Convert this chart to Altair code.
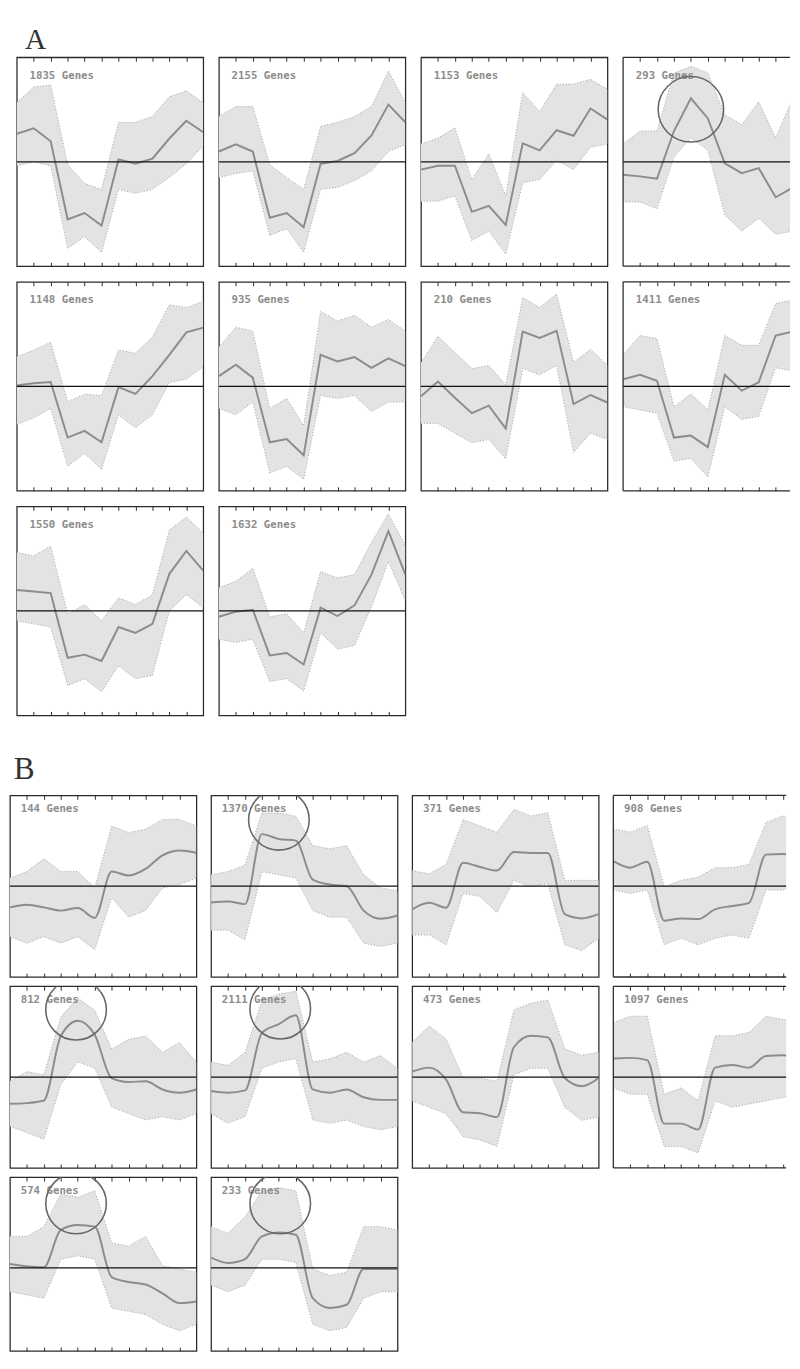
import altair as alt
import pandas as pd

# ---------------- data ----------------
TIME = list(range(12))                 # 12 time points, x domain 0..11
X_TICKS = list(range(1, 11))
Y_TICKS = [-2, -1, 0, 1, 2]

SECTION_LABELS = ["A", "B"]

A_LABELS = ["1835 Genes", "2155 Genes", "1153 Genes", "293 Genes",
            "1148 Genes", "935 Genes", "210 Genes", "1411 Genes",
            "1550 Genes", "1632 Genes"]

A_MEAN = [
    [0.71, 0.85, 0.52, -1.46, -1.30, -1.62, 0.06, -0.05, 0.08, 0.59, 1.04, 0.75],
    [0.26, 0.44, 0.26, -1.42, -1.30, -1.66, -0.05, 0.02, 0.22, 0.67, 1.45, 1.00],
    [-0.20, -0.10, -0.10, -1.27, -1.12, -1.60, 0.47, 0.29, 0.80, 0.66, 1.35, 1.07],
    [-0.33, -0.37, -0.43, 0.78, 1.61, 1.10, -0.04, -0.29, -0.16, -0.90, -0.66, -0.60],
    [0.02, 0.08, 0.11, -1.30, -1.13, -1.42, -0.02, -0.19, 0.26, 0.80, 1.37, 1.49],
    [0.26, 0.55, 0.22, -1.42, -1.34, -1.75, 0.80, 0.63, 0.74, 0.47, 0.71, 0.51],
    [-0.25, 0.12, -0.29, -0.68, -0.49, -1.07, 1.39, 1.23, 1.41, -0.45, -0.22, -0.41],
    [0.18, 0.29, 0.14, -1.30, -1.25, -1.54, 0.29, -0.11, 0.10, 1.29, 1.39, 0.80],
    [0.53, 0.49, 0.45, -1.19, -1.11, -1.27, -0.41, -0.56, -0.33, 0.94, 1.52, 1.02],
    [-0.15, -0.02, 0.03, -1.13, -1.07, -1.36, 0.08, -0.13, 0.14, 0.92, 2.02, 0.92],
]
A_UPPER = [
    [1.50, 1.90, 1.95, -0.07, -0.55, -0.70, 1.00, 1.00, 1.15, 1.65, 1.80, 1.50],
    [1.15, 1.40, 1.40, -0.07, -0.40, -0.70, 0.90, 1.00, 1.15, 1.40, 2.30, 1.50],
    [0.45, 0.60, 0.86, -0.45, 0.20, -0.86, 1.76, 1.27, 1.97, 1.97, 2.09, 1.84],
    [0.45, 0.78, 0.78, 2.25, 2.42, 2.25, 1.19, 0.94, 1.52, 0.61, 1.60, 1.00],
    [0.75, 0.92, 1.12, -0.39, -0.20, -0.23, 0.92, 0.84, 1.25, 2.07, 2.00, 2.15],
    [1.00, 1.50, 1.40, -0.56, -0.30, -1.00, 1.90, 1.66, 1.80, 1.50, 1.70, 1.40],
    [0.60, 1.27, 0.86, 0.45, 0.53, 0.04, 2.25, 2.00, 2.34, 0.61, 0.94, 0.53],
    [0.80, 1.29, 1.21, -0.52, -0.19, -0.60, 1.29, 1.04, 1.04, 2.10, 2.19, 1.70],
    [1.48, 1.40, 1.64, -0.08, 0.16, -0.25, 0.33, 0.16, 0.41, 2.05, 2.38, 1.97],
    [0.59, 0.75, 1.08, -0.15, -0.07, -0.56, 1.00, 0.84, 0.92, 1.74, 2.46, 1.66],
]
A_LOWER = [
    [-0.10, 0.00, -0.10, -2.20, -1.90, -2.30, -0.70, -0.80, -0.70, -0.40, -0.05, 0.40],
    [-0.40, -0.30, -0.23, -1.87, -1.70, -2.30, -0.70, -0.65, -0.48, -0.23, 0.26, 0.43],
    [-1.00, -1.00, -0.86, -2.00, -1.76, -2.34, -0.53, -0.45, 0.04, -0.20, 0.37, 0.45],
    [-1.02, -1.02, -1.19, 0.12, 0.61, 0.29, -1.35, -1.76, -1.43, -1.84, -1.76, -1.60],
    [-0.97, -0.80, -0.56, -2.03, -1.70, -2.11, -0.72, -1.05, -0.72, 0.10, 0.18, 0.50],
    [-0.56, -0.72, -0.40, -2.20, -2.03, -2.36, -0.23, -0.31, -0.23, -0.64, -0.40, -0.40],
    [-0.94, -0.94, -1.19, -1.43, -1.35, -1.84, 0.45, 0.29, 0.53, -1.68, -1.19, -1.35],
    [-0.52, -0.60, -0.68, -1.90, -1.83, -2.30, -0.52, -0.84, -0.76, 0.47, 0.39, -0.10],
    [-0.25, -0.33, -0.41, -1.89, -1.72, -2.05, -1.39, -1.72, -1.64, 0.00, 0.41, 0.08],
    [-0.72, -0.80, -0.72, -1.79, -1.72, -2.03, -0.56, -0.97, -0.88, 0.10, 1.25, 0.26],
]
# circled regions: (panel index, x, y)
A_CIRCLES = [(3, 4.0, 1.33)]

B_LABELS = ["144 Genes", "1370 Genes", "371 Genes", "908 Genes",
            "812 Genes", "2111 Genes", "473 Genes", "1097 Genes",
            "574 Genes", "233 Genes"]

B_MEAN = [
    [-0.65, -0.57, -0.65, -0.75, -0.67, -0.97, 0.45, 0.33, 0.53, 0.95, 1.10, 1.03],
    [-0.50, -0.47, -0.55, 1.60, 1.45, 1.40, 0.20, 0.05, 0.00, -0.75, -1.00, -0.90],
    [-0.71, -0.51, -0.66, 0.72, 0.59, 0.48, 1.05, 1.02, 1.02, -0.86, -0.99, -0.86],
    [0.77, 0.57, 0.75, -1.06, -0.99, -1.01, -0.71, -0.61, -0.51, 0.97, 0.99, 0.92],
    [-0.82, -0.80, -0.72, 1.26, 1.73, 1.30, -0.03, -0.15, -0.13, -0.38, -0.48, -0.38],
    [-0.43, -0.48, -0.41, 1.36, 1.63, 1.90, -0.38, -0.48, -0.38, -0.62, -0.70, -0.70],
    [0.17, 0.29, -0.08, -1.08, -1.11, -1.23, 0.92, 1.27, 1.22, -0.03, -0.28, -0.03],
    [0.57, 0.59, 0.52, -1.43, -1.43, -1.61, 0.29, 0.37, 0.29, 0.65, 0.67, 0.62],
    [0.12, 0.05, 0.02, 1.17, 1.32, 1.27, -0.28, -0.43, -0.51, -0.78, -1.08, -1.03],
    [0.32, 0.15, 0.27, 0.97, 1.09, 1.02, -0.93, -1.23, -1.13, -0.03, -0.03, -0.03],
]
B_UPPER = [
    [0.25, 0.45, 0.85, 0.45, 0.45, -0.05, 1.85, 1.65, 1.75, 2.05, 2.05, 1.85],
    [0.35, 0.45, 0.65, 2.25, 2.25, 2.15, 1.25, 1.15, 1.25, 0.35, -0.05, -0.15],
    [0.48, 0.38, 0.67, 2.05, 1.85, 1.66, 2.36, 2.16, 2.26, 0.18, 0.18, 0.18],
    [1.76, 1.66, 1.86, -0.02, 0.18, 0.28, 0.57, 0.57, 0.67, 1.96, 2.16, 2.06],
    [-0.13, 0.17, 0.07, 1.85, 2.43, 2.05, 0.86, 1.16, 1.26, 0.76, 1.06, 0.46],
    [0.46, 0.36, 0.76, 2.35, 2.55, 2.64, 0.46, 0.56, 0.76, 0.46, 0.66, 0.26],
    [1.07, 1.57, 1.17, -0.03, -0.03, -0.13, 2.07, 2.27, 2.37, 0.87, 0.67, 0.77],
    [1.67, 1.87, 1.87, -0.53, -0.33, -0.73, 1.27, 1.27, 1.37, 1.87, 1.77, 1.67],
    [0.97, 0.97, 1.27, 2.27, 2.17, 2.37, 0.77, 0.67, 0.97, 0.07, -0.03, -0.13],
    [1.27, 1.07, 1.57, 2.37, 2.47, 2.37, -0.03, -0.23, -0.13, 1.27, 1.27, 1.17],
]
B_LOWER = [
    [-1.55, -1.75, -1.55, -1.75, -1.55, -1.95, -0.35, -0.95, -0.75, -0.05, 0.05, 0.25],
    [-1.35, -1.35, -1.65, 0.45, 0.35, 0.25, -0.75, -0.95, -0.95, -1.75, -1.85, -1.75],
    [-1.50, -1.50, -1.80, -0.22, -0.32, -0.81, 0.18, -0.02, 0.08, -1.80, -1.98, -1.60],
    [-0.12, -0.22, -0.12, -1.80, -1.60, -1.80, -1.60, -1.50, -1.60, -0.12, -0.12, -0.02],
    [-1.51, -1.71, -1.91, -0.23, 0.47, 0.27, -0.92, -1.12, -1.32, -1.22, -1.32, -1.12],
    [-1.12, -1.42, -1.22, 0.27, 0.47, 0.56, -1.32, -1.42, -1.32, -1.52, -1.62, -1.52],
    [-0.73, -0.93, -1.13, -1.83, -1.93, -2.13, 0.07, 0.27, 0.27, -0.93, -1.33, -1.23],
    [-0.33, -0.53, -0.53, -2.13, -2.13, -2.33, -0.73, -0.93, -0.83, -0.73, -0.63, -0.53],
    [-0.73, -0.83, -0.93, 0.27, 0.37, 0.27, -1.23, -1.33, -1.43, -1.73, -1.93, -1.73],
    [-0.53, -0.73, -0.53, 0.27, 0.27, 0.17, -1.73, -1.93, -1.83, -0.93, -0.73, -0.73],
]
B_CIRCLES = [(1, 4.0, 2.04), (4, 3.9, 2.07), (5, 4.08, 2.10),
             (8, 3.9, 1.98), (9, 4.08, 1.98)]

# ---------------- styling ----------------
INK = "#2a2a2a"
BAND = "#e3e3e3"
DOT = "#a0a0a0"
MEAN = "#8c8c8c"
CIRCLE = "#666666"


def make_panel(label, mean, upper, lower, circles, w, h, ydom, xmax, open_right,
               interp, lab_x, lab_y, circ_size, section=None):
    df = pd.DataFrame({"t": TIME, "mean": mean, "upper": upper, "lower": lower})
    xsc = alt.Scale(domain=[TIME[0], xmax], nice=False, zero=False)
    ysc = alt.Scale(domain=list(ydom), nice=False, zero=False)
    xt = [v for v in X_TICKS if v < xmax - 0.05]
    yt = [v for v in Y_TICKS if ydom[0] < v < ydom[1]]

    def xaxis(orient):
        return alt.Axis(orient=orient, values=xt, labels=False, domain=False,
                        grid=False, tickSize=4, offset=-4, tickColor=INK,
                        tickWidth=1, title=None, minExtent=0, maxExtent=0)

    yaxis = alt.Axis(orient="left", values=yt, labels=False, domain=False,
                     grid=False, tickSize=4, offset=-4, tickColor=INK,
                     tickWidth=1, title=None, minExtent=0, maxExtent=0)

    base = alt.Chart(df)
    band = base.mark_area(color=BAND, interpolate="linear", clip=True).encode(
        x=alt.X("t:Q", scale=xsc, axis=xaxis("bottom")),
        y=alt.Y("lower:Q", scale=ysc, axis=yaxis),
        y2="upper:Q",
    )
    edge_u = base.mark_line(color=DOT, strokeWidth=1, strokeDash=[1, 2], clip=True).encode(
        x=alt.X("t:Q", scale=xsc, axis=None),
        y=alt.Y("upper:Q", scale=ysc, axis=None),
    )
    edge_l = base.mark_line(color=DOT, strokeWidth=1, strokeDash=[1, 2], clip=True).encode(
        x=alt.X("t:Q", scale=xsc, axis=None),
        y=alt.Y("lower:Q", scale=ysc, axis=None),
    )
    mean_line = base.mark_line(color=MEAN, strokeWidth=2, interpolate=interp,
                               clip=True).encode(
        x=alt.X("t:Q", scale=xsc, axis=xaxis("top")),
        y=alt.Y("mean:Q", scale=ysc, axis=None),
    )
    zero = alt.Chart(pd.DataFrame({"z": [0.0]})).mark_rule(
        color="#111111", strokeWidth=1.3).encode(
        y=alt.Y("z:Q", scale=ysc, axis=None))
    text = alt.Chart(pd.DataFrame({"lab": [label]})).mark_text(
        font="DejaVu Sans Mono", fontSize=11, fontWeight="bold", color="#8c8c8c",
        align="left", baseline="middle").encode(
        text="lab:N", x=alt.value(lab_x), y=alt.value(lab_y))
    layers = [band, edge_u, edge_l, mean_line, zero, text]
    if circles:
        cdf = pd.DataFrame({"cx": [c[0] for c in circles], "cy": [c[1] for c in circles]})
        ring = alt.Chart(cdf).mark_point(
            shape="circle", filled=False, size=circ_size, color=CIRCLE,
            strokeWidth=1.6, opacity=1, clip=True).encode(
            x=alt.X("cx:Q", scale=xsc, axis=None),
            y=alt.Y("cy:Q", scale=ysc, axis=None))
        layers.append(ring)
    if section is not None:
        # section letter sits above the first panel of its block
        letter, size, sx, sy = section
        layers.append(alt.Chart(pd.DataFrame({"s": [letter]})).mark_text(
            font="Liberation Serif", fontSize=size, color="#333333",
            align="left", baseline="alphabetic").encode(
            text="s:N", x=alt.value(sx), y=alt.value(sy)))
    if open_right:
        # the reference crops this column at the page edge: frame on three sides only
        hb = alt.Chart(pd.DataFrame({"yb": list(ydom)})).mark_rule(
            color=INK, strokeWidth=1.3).encode(y=alt.Y("yb:Q", scale=ysc, axis=None))
        vb = alt.Chart(pd.DataFrame({"xb": [TIME[0]]})).mark_rule(
            color=INK, strokeWidth=1.3).encode(x=alt.X("xb:Q", scale=xsc, axis=None))
        layers += [hb, vb]
        view = alt.ViewBackground(stroke="transparent")
    else:
        view = alt.ViewBackground(stroke=INK, strokeWidth=1.3)
    return alt.layer(*layers).resolve_axis(x="independent").properties(
        width=w, height=h, view=view)


def section(labels, means, uppers, lowers, circles, widths, heights, ydoms, xmax_last,
            interp, lab_x, lab_y, circ_size, hspace, vspace, letter):
    rows = []
    for r, start in enumerate(range(0, len(labels), 4)):
        panels = []
        for c, i in enumerate(range(start, min(start + 4, len(labels)))):
            circ = [(q[1], q[2]) for q in circles if q[0] == i]
            last = (c == 3)
            panels.append(make_panel(labels[i], means[i], uppers[i], lowers[i], circ,
                                     widths[c], heights[r], ydoms[r],
                                     xmax_last if last else TIME[-1], last,
                                     interp, lab_x, lab_y, circ_size,
                                     letter if i == 0 else None))
        rows.append(alt.hconcat(*panels, spacing=hspace))
    return alt.vconcat(*rows, spacing=vspace)


A_grid = section(A_LABELS, A_MEAN, A_UPPER, A_LOWER, A_CIRCLES,
                 [191, 191, 191, 171], [214, 214, 214],
                 [(-2.65, 2.65)] * 3, 9.85,
                 "linear", 13, 19, 4500, 12, 12,
                 (SECTION_LABELS[0], 30, 8.3, -9))
B_grid = section(B_LABELS, B_MEAN, B_UPPER, B_LOWER, B_CIRCLES,
                 [191, 191, 191, 177], [186, 186, 178],
                 [(-2.79, 2.79), (-2.79, 2.79), (-2.55, 2.79)], 10.19,
                 "monotone", 11, 14, 3850, 11, 5.5,
                 (SECTION_LABELS[1], 32, 4, -17))

spacer = alt.Chart(pd.DataFrame({"s": [0]})).mark_point(opacity=0, size=1).encode(
    x=alt.value(2), y=alt.value(0.5)).properties(width=3.7, height=1)

A_block = alt.hconcat(spacer, A_grid, spacing=0)

chart = alt.vconcat(
    A_block,
    B_grid,
    spacing=36,
).properties(padding=0).configure(background="white").configure_view(stroke="transparent")

chart.save("out.html", embed_options={"renderer": "svg", "actions": False})
